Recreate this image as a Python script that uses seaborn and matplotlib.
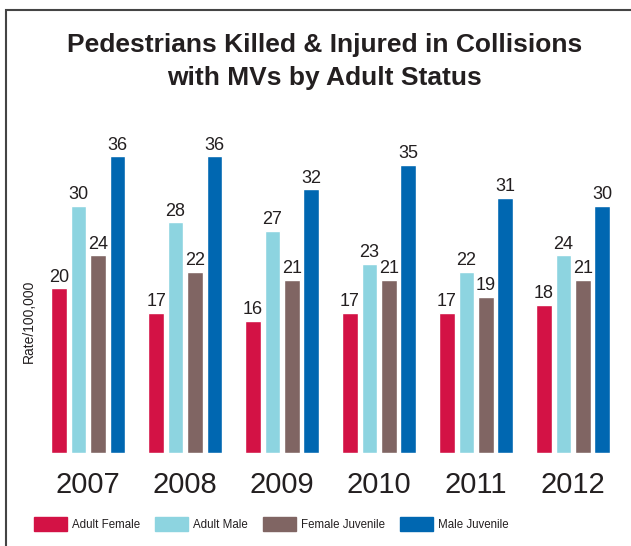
import pandas as pd
import seaborn as sns
import matplotlib.pyplot as plt
from matplotlib.patches import Rectangle

years = ['2007', '2008', '2009', '2010', '2011', '2012']
adult_female = [20, 17, 16, 17, 17, 18]
adult_male = [30, 28, 27, 23, 22, 24]
female_juvenile = [24, 22, 21, 21, 19, 21]
male_juvenile = [36, 36, 32, 35, 31, 30]
groups = ['Adult Female', 'Adult Male', 'Female Juvenile', 'Male Juvenile']

colors = ['#D31245', '#8DD4E0', '#806563', '#0067B1']

# long form for seaborn
rows = []
for g, vals in zip(groups, [adult_female, adult_male, female_juvenile, male_juvenile]):
    for y, v in zip(years, vals):
        rows.append({'year': y, 'group': g, 'rate': v})
df = pd.DataFrame(rows)

sns.set_style('white')
plt.rcParams['font.family'] = ['Liberation Sans', 'DejaVu Sans']
txt = '#231f20'

fig = plt.figure(figsize=(6.31, 5.46), dpi=100)
ax = fig.add_axes([0.063, 0.170, 0.922, 0.604])
sns.barplot(data=df, x='year', y='rate', hue='group', hue_order=groups,
            palette=colors, width=0.8, gap=0.2, saturation=1, ax=ax, legend=False)

for cont in ax.containers:
    ax.bar_label(cont, fmt='%d', padding=2, fontsize=13, color=txt)

ax.set_xlim(-0.5, 5.5)
ax.set_ylim(0, 40)
ax.set_yticks([])
ax.set_xlabel('')
ax.set_ylabel('Rate/100,000', fontsize=10, color=txt)
ax.yaxis.set_label_coords(-0.006, 0.40)
ax.tick_params(axis='x', length=0, labelsize=21, pad=13, labelcolor=txt)
for s in ax.spines.values():
    s.set_visible(False)

fig.suptitle('Pedestrians Killed & Injured in Collisions\nwith MVs by Adult Status',
             x=0.514, y=0.94, fontsize=19, fontweight='bold', linespacing=1.5, color=txt)

handles = [Rectangle((0, 0), 1, 1, color=c) for c in colors]
fig.legend(handles, groups, loc='center', bbox_to_anchor=(0.43, 0.040), ncol=4,
           frameon=False, fontsize=8.3, handlelength=2.87, handleheight=1.56,
           columnspacing=1.3, handletextpad=0.43, labelcolor=txt)

# frame
fig.patches.append(Rectangle((6 / 631, -0.1), 1.1, 1.1 - 10 / 546, transform=fig.transFigure,
                             fill=False, edgecolor='#444444', linewidth=1.5))

fig.savefig('out.png', dpi=100)
